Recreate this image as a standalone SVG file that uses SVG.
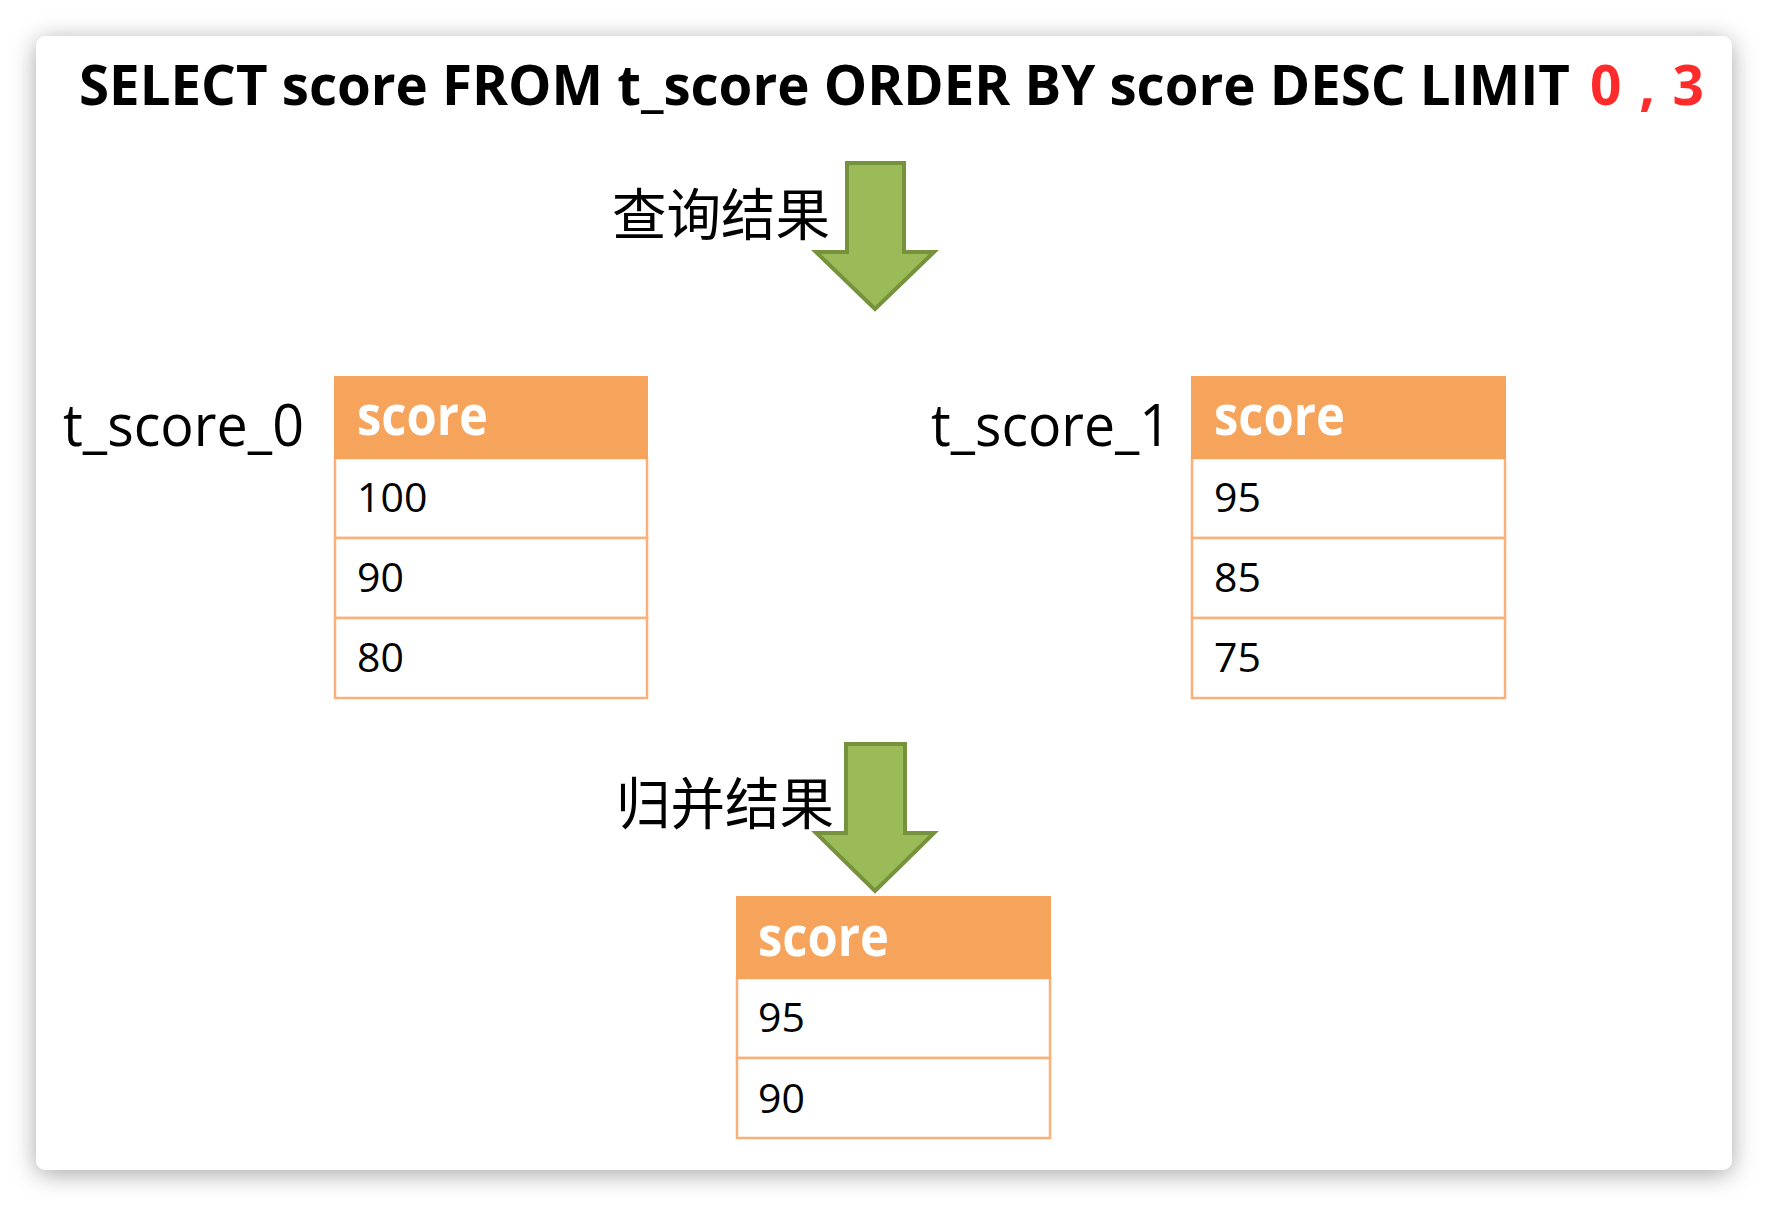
<svg xmlns="http://www.w3.org/2000/svg" width="1768" height="1206" viewBox="0 0 1768 1206">
  <style>
    .title { font-family: "Open Sans", "Liberation Sans", sans-serif; font-weight: 700; font-size: 55px; fill: #000; }
    .red { fill: #ff2a2a; }
    .cjk { font-family: "Noto Sans CJK SC", sans-serif; font-size: 56px; fill: #000; }
    .lbl { font-family: "Open Sans", "Liberation Sans", sans-serif; font-size: 58px; fill: #000; }
    .hdr { fill: #f6a35b; stroke: #f6a35b; stroke-width: 2; }
    .cell { fill: #ffffff; stroke: #f9b07a; stroke-width: 2.5; }
    .htxt { font-family: "Open Sans", "Liberation Sans", sans-serif; font-weight: 700; font-size: 56px; fill: #ffffff; }
    .ctxt { font-family: "Open Sans", "Liberation Sans", sans-serif; font-size: 41px; fill: #000; }
    .arrow { fill: #9bbb59; stroke: #76923c; stroke-width: 4; stroke-linejoin: miter; }
  </style>
  <defs>
    <filter id="shadow" x="-10%" y="-10%" width="120%" height="120%">
      <feDropShadow dx="0" dy="4" stdDeviation="12" flood-color="#000" flood-opacity="0.35"/>
    </filter>
  </defs>
  <rect x="0" y="0" width="1768" height="1206" fill="#ffffff"/>
  <rect x="36" y="36" width="1696" height="1134" rx="10" ry="10" fill="#ffffff" filter="url(#shadow)"/>

  <g id="title">
    <text class="title" x="79" y="105" textLength="1491" lengthAdjust="spacingAndGlyphs">SELECT score FROM t_score ORDER BY score DESC LIMIT</text>
    <text class="title red" x="1590" y="105" textLength="114" lengthAdjust="spacing">0 , 3</text>
  </g>

  <g id="connectors">
    <g id="arrow-query">
      <path class="arrow" d="M847,163 L904,163 L904,252 L934,252 L875,309 L816,252 L847,252 Z"/>
      <text class="cjk" x="612" y="235" textLength="218" lengthAdjust="spacingAndGlyphs">查询结果</text>
    </g>
    <g id="arrow-merge">
      <path class="arrow" d="M846,744 L905,744 L905,833 L934,833 L875,891 L816,833 L846,833 Z"/>
      <text class="cjk" x="616" y="824" textLength="218" lengthAdjust="spacingAndGlyphs">归并结果</text>
    </g>
  </g>

  <g id="t_score_0">
    <text class="lbl" x="63" y="446" textLength="241" lengthAdjust="spacingAndGlyphs">t_score_0</text>
    <rect class="cell" x="335" y="458" width="312" height="80"/>
    <rect class="cell" x="335" y="538" width="312" height="80"/>
    <rect class="cell" x="335" y="618" width="312" height="80"/>
    <rect class="hdr" x="335" y="377" width="312" height="81"/>
    <text class="htxt" x="357" y="435" textLength="131" lengthAdjust="spacingAndGlyphs">score</text>
    <text class="ctxt" x="357" y="512">100</text>
    <text class="ctxt" x="357" y="592">90</text>
    <text class="ctxt" x="357" y="672">80</text>
  </g>

  <g id="t_score_1">
    <text class="lbl" x="931" y="446" textLength="240" lengthAdjust="spacingAndGlyphs">t_score_1</text>
    <rect class="cell" x="1192" y="458" width="313" height="80"/>
    <rect class="cell" x="1192" y="538" width="313" height="80"/>
    <rect class="cell" x="1192" y="618" width="313" height="80"/>
    <rect class="hdr" x="1192" y="377" width="313" height="81"/>
    <text class="htxt" x="1214" y="435" textLength="131" lengthAdjust="spacingAndGlyphs">score</text>
    <text class="ctxt" x="1214" y="512">95</text>
    <text class="ctxt" x="1214" y="592">85</text>
    <text class="ctxt" x="1214" y="672">75</text>
  </g>

  <g id="merged">
    <rect class="cell" x="737" y="978" width="313" height="80"/>
    <rect class="cell" x="737" y="1058" width="313" height="80"/>
    <rect class="hdr" x="737" y="897" width="313" height="81"/>
    <text class="htxt" x="758" y="956" textLength="131" lengthAdjust="spacingAndGlyphs">score</text>
    <text class="ctxt" x="758" y="1032">95</text>
    <text class="ctxt" x="758" y="1113">90</text>
  </g>
</svg>
